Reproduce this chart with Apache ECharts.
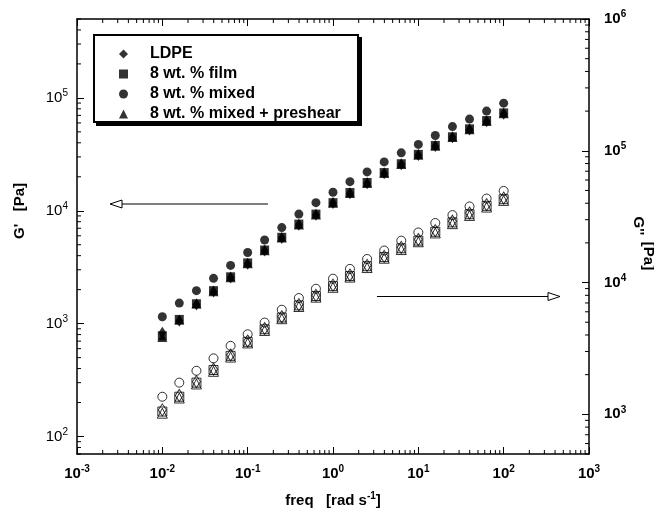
<!DOCTYPE html>
<html>
<head>
<meta charset="utf-8">
<script src="https://cdn.jsdelivr.net/npm/echarts@6/dist/echarts.min.js"></script>
<style>
  html, body { margin: 0; padding: 0; background: #fff; }
  #chart { width: 654px; height: 513px; }
</style>
</head>
<body>
<div id="chart"></div>
<script>
// angular frequency, rad/s (5 points per decade)
var freq = [0.01, 0.0158, 0.0251, 0.0398, 0.0631, 0.1, 0.158, 0.251, 0.398, 0.631,
            1, 1.58, 2.51, 3.98, 6.31, 10, 15.8, 25.1, 39.8, 63.1, 100];

// G' (storage modulus, left axis) - filled symbols
var gpLdpe     = [830, 1060, 1480, 1930, 2560, 3400, 4450, 5750, 7500, 9200, 11700, 14300, 17500, 21500, 25800, 31200, 37500, 44800, 52500, 62000, 72500];
var gpFilm     = [780, 1090, 1500, 1960, 2600, 3450, 4490, 5820, 7620, 9340, 11800, 14500, 17800, 21800, 26100, 31600, 37900, 45200, 53200, 63000, 73600];
var gpMixed    = [1150, 1520, 1960, 2520, 3280, 4270, 5510, 7100, 9340, 11800, 14600, 18100, 22100, 27100, 32600, 38700, 46400, 55700, 64900, 76400, 89800];
var gpPreshear = [760, 1080, 1510, 1940, 2580, 3420, 4470, 5790, 7560, 9280, 11750, 14400, 17650, 21650, 25950, 31400, 37700, 45000, 52800, 62500, 73000];

// G'' (loss modulus, right axis) - open symbols
var gppLdpe     = [1080, 1390, 1770, 2200, 2820, 3600, 4480, 5500, 6800, 8000, 9550, 11400, 13500, 15800, 18500, 21200, 24800, 29200, 33700, 39000, 43800];
var gppFilm     = [1050, 1360, 1740, 2170, 2780, 3550, 4420, 5430, 6710, 7900, 9400, 11200, 13300, 15600, 18200, 20800, 24300, 28600, 33000, 38200, 42900];
var gppMixed    = [1360, 1740, 2140, 2660, 3310, 4050, 4970, 6220, 7630, 8970, 10700, 12700, 15100, 17500, 20800, 24000, 28300, 32500, 37800, 43400, 49600];
var gppPreshear = [1020, 1330, 1700, 2120, 2720, 3480, 4330, 5320, 6580, 7750, 9200, 11000, 13000, 15300, 17800, 20400, 23800, 28000, 32300, 37400, 42000];

var seriesNames = ['LDPE', '8 wt. % film', '8 wt. % mixed', '8 wt. % mixed + preshear'];

var FONT = 'Liberation Sans, Arial, Helvetica, sans-serif';
var chart = echarts.init(document.getElementById('chart'));

function pairs(ys) {
  return freq.map(function (f, i) { return [f, ys[i]]; });
}

function powLabel(v) {
  var e = Math.round(Math.log10(v));
  if (Math.abs(v / Math.pow(10, e) - 1) > 1e-6) return '';
  return '{b|10}{s|' + e + '}';
}

function richFor(weight) {
  return {
    b: { fontFamily: FONT, fontSize: 15, fontWeight: weight, color: '#000' },
    s: { fontFamily: FONT, fontSize: 10, fontWeight: weight, color: '#000', padding: [0, 0, 9, 0] }
  };
}

var frameLine = { show: true, lineStyle: { color: '#000', width: 1.5 } };
var majorTick = { show: true, inside: true, length: 7, lineStyle: { color: '#000', width: 1 } };

function scat(name, ys, axis, symbol, size, filled) {
  return {
    type: 'scatter',
    name: name,
    yAxisIndex: axis,
    symbol: symbol,
    symbolSize: size,
    data: pairs(ys),
    itemStyle: filled
      ? { color: '#000' }
      : { color: 'rgba(0,0,0,0)', borderColor: '#000', borderWidth: 1 },
    emphasis: { disabled: true }
  };
}

var option = {
  animation: false,
  backgroundColor: '#fff',
  grid: { left: 77, right: 65, top: 19, bottom: 57 },
  legend: {
    data: seriesNames,
    orient: 'vertical',
    left: 93,
    top: 36,
    padding: [10, 9, 7, 26],
    itemGap: 4,
    itemWidth: 9,
    itemHeight: 9,
    selectedMode: false,
    z: 10,
    textStyle: { fontFamily: FONT, fontSize: 16, fontWeight: 'bold', color: '#000', lineHeight: 16, padding: [0, 0, 0, 17] }
  },
  xAxis: [
    {
      type: 'log', logBase: 10, min: 0.001, max: 1000, position: 'bottom',
      splitNumber: 6,
      axisLine: frameLine, axisTick: majorTick, splitLine: { show: false },
      axisLabel: { margin: 10, formatter: powLabel, rich: richFor('bold'), showMinLabel: true, showMaxLabel: true },
      name: 'freq   [rad s{s|-1}]',
      nameLocation: 'middle',
      nameGap: 37,
      nameTextStyle: {
        fontFamily: FONT, fontSize: 15, fontWeight: 'bold', color: '#000',
        rich: { s: { fontFamily: FONT, fontSize: 10, fontWeight: 'bold', color: '#000', padding: [0, 0, 9, 0] } }
      }
    },
    {
      type: 'log', logBase: 10, min: 0.001, max: 1000, position: 'top',
      splitNumber: 6,
      axisLine: frameLine, axisTick: majorTick, splitLine: { show: false },
      axisLabel: { show: false }
    }
  ],
  yAxis: [
    {
      type: 'log', logBase: 10, min: 70, max: 500000, position: 'left',
      splitNumber: 4,
      axisLine: frameLine, axisTick: majorTick, splitLine: { show: false },
      axisLabel: { margin: 9, formatter: powLabel, rich: richFor('normal'), showMinLabel: false, showMaxLabel: false }
    },
    {
      type: 'log', logBase: 10, min: 500, max: 1000000, position: 'right',
      splitNumber: 3,
      axisLine: frameLine, axisTick: majorTick, splitLine: { show: false },
      axisLabel: { margin: 15, formatter: powLabel, rich: richFor('bold'), showMinLabel: false, showMaxLabel: true }
    }
  ],
  series: [
    scat('8 wt. % mixed + preshear', gpPreshear, 0, 'triangle', 10, true),
    scat('LDPE', gpLdpe, 0, 'diamond', [8, 12], true),
    scat('8 wt. % film', gpFilm, 0, 'rect', 9, true),
    scat('8 wt. % mixed', gpMixed, 0, 'circle', 9, true),
    scat("G'' preshear", gppPreshear, 1, 'triangle', 10, false),
    scat("G'' LDPE", gppLdpe, 1, 'diamond', [8, 12], false),
    scat("G'' film", gppFilm, 1, 'rect', 9, false),
    scat("G'' mixed", gppMixed, 1, 'circle', 9, false)
  ]
};

chart.setOption(option);

// minor log ticks, legend frame, axis titles and arrows
var gfx = [];
var x0 = chart.convertToPixel({ xAxisIndex: 0 }, 0.001);
var x1 = chart.convertToPixel({ xAxisIndex: 0 }, 1000);
var yb = chart.convertToPixel({ yAxisIndex: 0 }, 70);
var yt = chart.convertToPixel({ yAxisIndex: 0 }, 500000);
var minorLen = 4;

function tickLine(ax, ay, bx, by) {
  gfx.push({ type: 'line', silent: true, shape: { x1: ax, y1: ay, x2: bx, y2: by },
             style: { stroke: '#000', lineWidth: 1 }, z: 100 });
}

for (var n = -3; n < 3; n++) {
  for (var k = 2; k <= 9; k++) {
    var px = chart.convertToPixel({ xAxisIndex: 0 }, k * Math.pow(10, n));
    tickLine(px, yb, px, yb - minorLen);
    tickLine(px, yt, px, yt + minorLen);
  }
}
for (var n2 = 1; n2 < 6; n2++) {
  for (var k2 = 2; k2 <= 9; k2++) {
    var v = k2 * Math.pow(10, n2);
    if (v < 70 || v > 500000) continue;
    var py = chart.convertToPixel({ yAxisIndex: 0 }, v);
    tickLine(x0, py, x0 + minorLen, py);
  }
}
for (var n3 = 2; n3 < 6; n3++) {
  for (var k3 = 2; k3 <= 9; k3++) {
    var v3 = k3 * Math.pow(10, n3);
    if (v3 < 500 || v3 > 1000000) continue;
    var py3 = chart.convertToPixel({ yAxisIndex: 1 }, v3);
    tickLine(x1, py3, x1 - minorLen, py3);
  }
}

// legend box with a hard drop shadow
gfx.push({ type: 'rect', z: 5, shape: { x: 96, y: 37, width: 266, height: 89 }, style: { fill: '#000' } });
gfx.push({ type: 'rect', z: 6, shape: { x: 94, y: 35, width: 264, height: 87 }, style: { fill: '#fff', stroke: '#000', lineWidth: 2 } });

var titleStyle = { fontFamily: FONT, fontSize: 15, fontWeight: 'bold', fill: '#000', align: 'center', verticalAlign: 'middle' };
gfx.push({ type: 'text', x: 20, y: 211, rotation: Math.PI / 2, style: Object.assign({ text: "G'   [Pa]" }, titleStyle) });
gfx.push({ type: 'text', x: 638, y: 226, rotation: -Math.PI / 2, style: Object.assign({ text: "G''" }, titleStyle) });
gfx.push({ type: 'text', x: 648, y: 256, rotation: -Math.PI / 2, style: Object.assign({ text: '[Pa]' }, titleStyle) });

// arrows: left one points to the G' axis, right one to the G'' axis
gfx.push({ type: 'line', shape: { x1: 268, y1: 204, x2: 121, y2: 204 }, style: { stroke: '#000', lineWidth: 1.2 } });
gfx.push({ type: 'polygon', shape: { points: [[110, 204], [122, 200], [122, 208]] }, style: { fill: '#fff', stroke: '#000', lineWidth: 1 } });
gfx.push({ type: 'line', shape: { x1: 377, y1: 296.5, x2: 549, y2: 296.5 }, style: { stroke: '#000', lineWidth: 1.2 } });
gfx.push({ type: 'polygon', shape: { points: [[560, 296.5], [548, 292.5], [548, 300.5]] }, style: { fill: '#fff', stroke: '#000', lineWidth: 1 } });

chart.setOption({ graphic: { elements: gfx } });
</script>
</body>
</html>
